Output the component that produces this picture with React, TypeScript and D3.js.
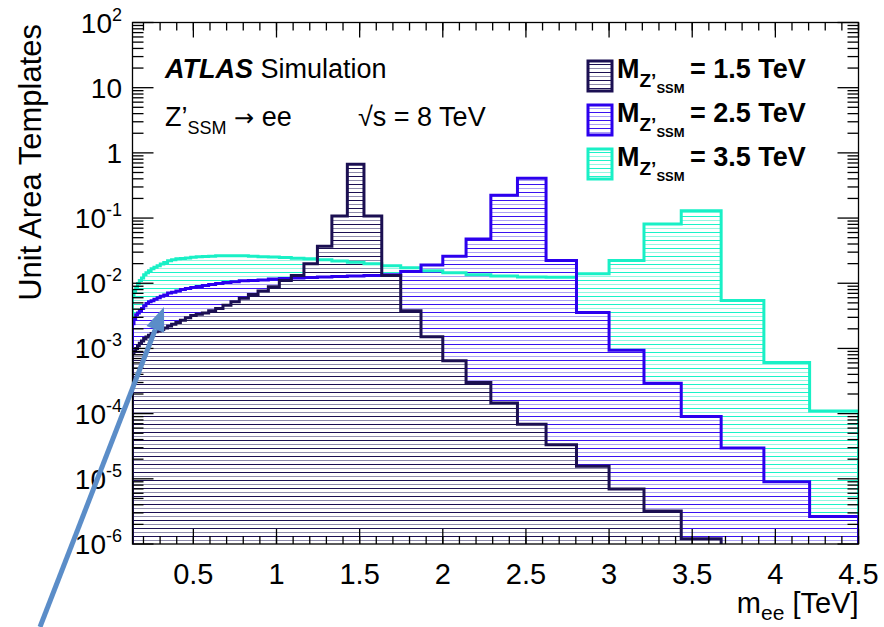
import * as d3 from "d3";

// log-spaced mass bins [TeV]
const binEdges = [
  0.134, 0.143, 0.153, 0.164, 0.175, 0.188, 0.201, 0.215, 0.23, 0.246, 0.263, 0.282, 0.301,
  0.322, 0.345, 0.369, 0.395, 0.422, 0.452, 0.484, 0.517, 0.554, 0.592, 0.634, 0.678, 0.726,
  0.776, 0.831, 0.889, 0.951, 1.017, 1.089, 1.165, 1.246, 1.333, 1.426, 1.526, 1.633, 1.747,
  1.869, 2.0, 2.14, 2.289, 2.449, 2.621, 2.804, 3.0, 3.21, 3.434, 3.674, 3.931, 4.206, 4.5,
];

// unit-area templates, one value per bin
const m15 = [
  8.5e-4, 9.0e-4, 1.0e-3, 1.1e-3, 1.2e-3, 1.3e-3, 1.42e-3, 1.5e-3, 1.6e-3, 1.7e-3,
  1.8e-3, 1.85e-3, 1.95e-3, 2.05e-3, 2.2e-3, 2.35e-3, 2.5e-3, 2.7e-3, 2.95e-3, 3.2e-3,
  3.35e-3, 3.5e-3, 3.8e-3, 4.1e-3, 4.6e-3, 5.2e-3, 5.9e-3, 6.7e-3, 7.6e-3, 8.8e-3,
  0.011, 0.0131, 0.0199, 0.037, 0.108, 0.667, 0.108, 0.0131, 0.0038, 0.00151,
  6.5e-4, 3.0e-4, 1.45e-4, 6.9e-5, 3.34e-5, 1.56e-5, 7.0e-6, 3.2e-6, 1.2e-6, 0,
  0, 0,
];
const m25 = [
  2.4e-3, 2.8e-3, 3.3e-3, 3.5e-3, 3.8e-3, 4.1e-3, 4.5e-3, 4.9e-3, 5.2e-3, 5.4e-3,
  5.7e-3, 6.0e-3, 6.3e-3, 6.6e-3, 7.1e-3, 7.3e-3, 7.6e-3, 8.0e-3, 8.3e-3, 8.6e-3,
  8.9e-3, 9.2e-3, 9.6e-3, 9.9e-3, 0.0103, 0.0105, 0.0109, 0.011, 0.0112, 0.0116,
  0.0118, 0.012, 0.0123, 0.0125, 0.0127, 0.0129, 0.0131, 0.0135, 0.0151, 0.0191,
  0.026, 0.0478, 0.224, 0.408, 0.0223, 3.55e-3, 9.4e-4, 2.92e-4, 9.06e-5, 2.97e-5,
  9.0e-6, 2.63e-6,
];
const m35 = [
  6.4e-3, 7.5e-3, 8.6e-3, 9.9e-3, 0.011, 0.012, 0.0135, 0.0145, 0.0156, 0.0167,
  0.0176, 0.0186, 0.0197, 0.0209, 0.0221, 0.0229, 0.0237, 0.024, 0.0245, 0.025,
  0.0254, 0.0258, 0.026, 0.0263, 0.0265, 0.0265, 0.0263, 0.026, 0.0256, 0.0252,
  0.0248, 0.0242, 0.0237, 0.023, 0.022, 0.021, 0.02, 0.0186, 0.0173, 0.0156,
  0.0145, 0.0135, 0.0129, 0.0125, 0.0124, 0.014, 0.0223, 0.081, 0.129, 5.46e-3,
  6.1e-4, 1.1e-4,
];

const massLabels = ["1.5", "2.5", "3.5"];
const xTickLabels = ["0.5", "1", "1.5", "2", "2.5", "3", "3.5", "4", "4.5"];
const yExponents = [-6, -5, -4, -3, -2, -1, 0, 1, 2];

const W = 884;
const H = 627;
const L = 132.5, R = 858.5, T = 22.5, B = 544;
const FONT = "'Liberation Sans', Arial, Helvetica, sans-serif";

const x = d3.scaleLinear().domain([binEdges[0], binEdges[binEdges.length - 1]]).range([L, R]);
const y = d3.scaleLog().domain([1e-6, 100]).range([B, T]);

const series = [
  { id: "c35", vals: m35, stroke: "#19f0c6", strong: "#1cf2c8", light: "#93f8e2" },
  { id: "b25", vals: m25, stroke: "#2c00ee", strong: "#3a12f0", light: "#ab9ff5" },
  { id: "n15", vals: m15, stroke: "#1b0f52", strong: "#1b0f52", light: "#8e8aab" },
];

function stepPoints(vals: number[]): [number, number][] {
  const pts: [number, number][] = [[x(binEdges[0]), B + 6]];
  vals.forEach((v, i) => {
    const yy = v > 0 ? Math.min(y(v), B + 6) : B + 6;
    pts.push([x(binEdges[i]), yy], [x(binEdges[i + 1]), yy]);
  });
  pts.push([x(binEdges[binEdges.length - 1]), B + 6]);
  return pts;
}

export default function App() {
  const line = d3.line();
  const xMajor = xTickLabels.map((d) => +d);
  const xMinor = d3.range(0.2, 4.501, 0.1);
  const yMinor = yExponents.slice(0, -1).flatMap((e) => d3.range(2, 10).map((k) => k * Math.pow(10, e)));

  // arrow annotation
  const tail = [40, 627];
  const tip = [164, 307];
  const dx = tip[0] - tail[0], dy = tip[1] - tail[1];
  const len = Math.hypot(dx, dy);
  const ux = dx / len, uy = dy / len;
  const hb = [tip[0] - 24 * ux, tip[1] - 24 * uy];
  const nx = -uy, ny = ux;

  const legendRows = [
    { s: series[2], label: massLabels[0], base: 78 },
    { s: series[1], label: massLabels[1], base: 122 },
    { s: series[0], label: massLabels[2], base: 166 },
  ];

  return (
    <svg width={W} height={H} style={{ position: "absolute", left: 0, top: 0 }} fontFamily={FONT}>
      <defs>
        <clipPath id="plot">
          <rect x={L} y={T} width={R - L} height={B - T} />
        </clipPath>
        {series.map((s) => (
          <pattern key={s.id} id={"h-" + s.id} patternUnits="userSpaceOnUse" width={8} height={8}>
            <rect x={0} y={0} width={8} height={1} fill={s.strong} />
            <rect x={0} y={4} width={8} height={1} fill={s.light} />
          </pattern>
        ))}
      </defs>
      <rect width={W} height={H} fill="#fff" />

      <g clipPath="url(#plot)">
        {series.map((s) => (
          <path key={s.id} d={line(stepPoints(s.vals)) + "Z"} fill={`url(#h-${s.id})`} stroke="none" />
        ))}
        {series.map((s) => (
          <path key={s.id} d={line(stepPoints(s.vals)) || ""} fill="none" stroke={s.stroke} strokeWidth={3} />
        ))}
      </g>

      {/* frame + ticks */}
      <g stroke="#000" strokeWidth={1.3}>
        <rect x={L} y={T} width={R - L} height={B - T} fill="none" />
        {xMajor.map((v) => (
          <g key={"xM" + v}>
            <line x1={x(v)} x2={x(v)} y1={B} y2={B - 15} />
            <line x1={x(v)} x2={x(v)} y1={T} y2={T + 15} />
          </g>
        ))}
        {xMinor.map((v) => (
          <g key={"xm" + v}>
            <line x1={x(v)} x2={x(v)} y1={B} y2={B - 8} />
            <line x1={x(v)} x2={x(v)} y1={T} y2={T + 8} />
          </g>
        ))}
        {yExponents.map((e) => (
          <g key={"yM" + e}>
            <line x1={L} x2={L + 21} y1={y(Math.pow(10, e))} y2={y(Math.pow(10, e))} />
            <line x1={R} x2={R - 21} y1={y(Math.pow(10, e))} y2={y(Math.pow(10, e))} />
          </g>
        ))}
        {yMinor.map((v, i) => (
          <g key={"ym" + i}>
            <line x1={L} x2={L + 11} y1={y(v)} y2={y(v)} />
            <line x1={R} x2={R - 11} y1={y(v)} y2={y(v)} />
          </g>
        ))}
      </g>

      {/* tick labels */}
      {xTickLabels.map((d) => (
        <text key={"xl" + d} x={x(+d)} y={584} fontSize={29} textAnchor="middle">
          {d}
        </text>
      ))}
      {yExponents.map((e) => (
        <text key={"yl" + e} x={122} y={y(Math.pow(10, e)) + 10} fontSize={28} textAnchor="end">
          {e === 0 ? "1" : e === 1 ? "10" : (
            <>
              10<tspan fontSize={18} dy={-12}>{e}</tspan>
            </>
          )}
        </text>
      ))}

      {/* axis titles */}
      <text x={R} y={613} fontSize={29} textAnchor="end">
        m<tspan fontSize={21} dy={7}>ee</tspan>
        <tspan dy={-7}> [TeV]</tspan>
      </text>
      <text transform="translate(41,24) rotate(-90)" fontSize={31} textAnchor="end">
        Unit Area Templates
      </text>

      {/* labels */}
      <text x={165} y={78} fontSize={27}>
        <tspan fontWeight="bold" fontStyle="italic">ATLAS</tspan> Simulation
      </text>
      <text x={165} y={126} fontSize={27}>
        Z’<tspan fontSize={18} dy={8}>SSM</tspan>
        <tspan dy={-8}> </tspan>
        <tspan fontFamily="'DejaVu Sans', sans-serif" fontSize={24}>→</tspan>
        <tspan> ee</tspan>
      </text>
      <text x={358} y={126} fontSize={27}>
        √s = 8 TeV
      </text>

      {/* legend */}
      {legendRows.map((r) => (
        <g key={"lg" + r.label}>
          <rect x={588} y={r.base - 17} width={24} height={30} fill={`url(#h-${r.s.id})`} stroke={r.s.stroke} strokeWidth={3} />
          <text x={617} y={r.base} fontSize={27} fontWeight="bold">
            M<tspan fontSize={19} dy={9}>Z’</tspan>
            <tspan fontSize={13} dy={6}>SSM</tspan>
          </text>
          <text x={690} y={r.base} fontSize={27} fontWeight="bold">
            = {r.label} TeV
          </text>
        </g>
      ))}

      {/* arrow */}
      <line x1={tail[0]} y1={tail[1]} x2={hb[0]} y2={hb[1]} stroke="#5b8dc8" strokeWidth={5} />
      <polygon
        points={`${tip[0]},${tip[1]} ${hb[0] + 9.5 * nx},${hb[1] + 9.5 * ny} ${hb[0] - 9.5 * nx},${hb[1] - 9.5 * ny}`}
        fill="#5b8dc8"
      />
    </svg>
  );
}
